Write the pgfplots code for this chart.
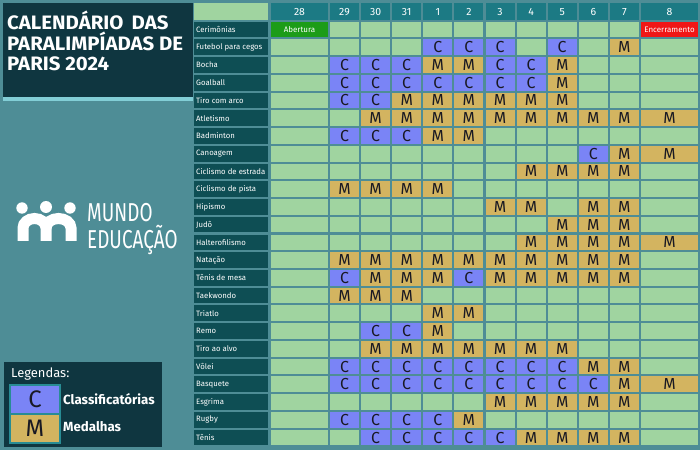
\documentclass[border=0pt]{standalone}
\usepackage{pgfplots}
\pgfplotsset{compat=1.18}
\usepackage{pgfplotstable}
\usepackage{fontspec}
\setmainfont{Fira Sans}
\definecolor{bg}{RGB}{78,141,150}
\definecolor{cellg}{RGB}{160,212,160}
\definecolor{cblue}{RGB}{122,132,246}
\definecolor{mgold}{RGB}{211,180,96}
\definecolor{lab}{RGB}{14,78,84}
\definecolor{head}{RGB}{28,122,132}
\definecolor{dark}{RGB}{15,54,64}
\definecolor{strip}{RGB}{130,206,214}
\definecolor{abert}{RGB}{28,156,24}
\definecolor{encer}{RGB}{240,22,22}
\definecolor{letter}{RGB}{25,25,35}
\definecolor{edge}{RGB}{40,140,148}

% dia: 0 = 28/ago, 1..3 = 29..31/ago, 4..11 = 1..8/set ; esp: linha do esporte
\pgfplotstableread{
dia esp
4 1
5 1
6 1
8 1
1 2
2 2
3 2
6 2
7 2
1 3
2 3
3 3
4 3
5 3
6 3
7 3
1 4
2 4
1 6
2 6
3 6
9 7
1 14
5 14
2 17
3 17
1 19
2 19
3 19
4 19
5 19
6 19
7 19
8 19
1 20
2 20
3 20
4 20
5 20
6 20
7 20
8 20
9 20
1 22
2 22
3 22
4 22
2 23
3 23
4 23
5 23
6 23
}\classif

\pgfplotstableread{
dia esp
10 1
4 2
5 2
8 2
8 3
3 4
4 4
5 4
6 4
7 4
8 4
2 5
3 5
4 5
5 5
6 5
7 5
8 5
9 5
10 5
11 5
4 6
5 6
10 7
11 7
7 8
8 8
9 8
10 8
1 9
2 9
3 9
4 9
6 10
7 10
9 10
10 10
8 11
9 11
10 11
7 12
8 12
9 12
10 12
11 12
1 13
2 13
3 13
4 13
5 13
6 13
7 13
8 13
9 13
10 13
2 14
3 14
4 14
6 14
7 14
8 14
9 14
10 14
1 15
2 15
3 15
4 16
5 16
4 17
2 18
3 18
4 18
5 18
6 18
7 18
8 18
9 19
10 19
10 20
11 20
6 21
7 21
8 21
9 21
10 21
5 22
7 23
8 23
9 23
10 23
}\medalhas

\pgfplotstableread{
dia esp nome
0 0 Abertura
}\abertura
\pgfplotstableread{
dia esp nome
11 0 Encerramento
}\encerramento

\begin{document}
\begin{tikzpicture}
\begin{scope}[x=1bp,y=-1bp]
\fill[bg] (0,0) rectangle (700,450);
% title
\fill[dark] (3,3) rectangle (193,97);
\fill[strip] (3,97) rectangle (193,101);
\node[anchor=base west,white,inner sep=0] at (7,30) {\scalebox{1.05}[1]{\bfseries\fontsize{19.5}{20}\selectfont CALENDÁRIO\, DAS}};
\node[anchor=base west,white,inner sep=0] at (7,51) {\scalebox{1.05}[1]{\bfseries\fontsize{19.5}{20}\selectfont PARALIMPÍADAS DE}};
\node[anchor=base west,white,inner sep=0] at (7,71) {\scalebox{1.05}[1]{\bfseries\fontsize{19.5}{20}\selectfont PARIS 2024}};
% logo
\fill[white] (22,208) circle (5.7);
\fill[white] (46,207) circle (6);
\fill[white] (70,208) circle (5.7);
\draw[white,line width=11bp] (23,241) -- (23,228) arc[start angle=180,end angle=360,x radius=11.5,y radius=9.5] -- (46,241);
\draw[white,line width=11bp] (46,228) arc[start angle=180,end angle=360,x radius=12.5,y radius=9.5] -- (71,241);
\node[anchor=base west,white,inner sep=0] at (87,222) {\scalebox{0.73}[1]{\fontsize{26}{22}\selectfont\begin{tabular}[t]{@{}l@{}}MUNDO\\[-3.5bp]EDUCAÇÃO\end{tabular}}};
% legend
\fill[dark] (4,362) rectangle (162,447);
\node[anchor=base west,white,inner sep=0,font=\fontsize{13}{13}\selectfont] at (11,377) {Legendas:};
\filldraw[fill=cblue,draw=edge,line width=1.5bp] (10,385) rectangle (60,414);
\filldraw[fill=mgold,draw=edge,line width=1.5bp] (10,414) rectangle (60,443);
\node[letter,font=\fontsize{24}{24}\selectfont] at (35,399.5) {C};
\node[letter,font=\fontsize{24}{24}\selectfont] at (35,428.5) {M};
\node[anchor=west,white,inner sep=0,font=\bfseries\fontsize{13.3}{13.3}\selectfont] at (63,399) {Classificatórias};
\node[anchor=west,white,inner sep=0,font=\bfseries\fontsize{13.3}{13.3}\selectfont] at (63,427) {Medalhas};
% header row
\fill[cellg] (194,3) rectangle (268,20);
\foreach \d [count=\k from 0] in {28,29,30,31,1,2,3,4,5,6,7,8} {
  \pgfmathsetmacro\xc{\k==0 ? 299.5 : (\k==11 ? 669.5 : 344.5+31.1*(\k-1))}
  \pgfmathsetmacro\w{(\k==0 || \k==11) ? 57 : 29}
  \fill[head] (\xc-\w/2,3) rectangle (\xc+\w/2,20);
  \node[white,font=\fontsize{10.5}{10.5}\selectfont] at (\xc,11.8) {\d};
  \foreach \r in {0,...,23} {
    \fill[cellg] (\xc-\w/2,29.5+17.74*\r-7.85) rectangle +(\w,15.7);
  }
}
\foreach \s [count=\r from 0] in {Cerimônias,Futebol para cegos,Bocha,Goalball,Tiro com arco,Atletismo,Badminton,Canoagem,Ciclismo de estrada,Ciclismo de pista,Hipismo,Judô,Halterofilismo,Natação,Tênis de mesa,Taekwondo,Triatlo,Remo,Tiro ao alvo,Vôlei,Basquete,Esgrima,Rugby,Tênis} {
  \fill[lab] (194,29.5+17.74*\r-7.85) rectangle +(74,15.7);
  \node[anchor=west,white,inner sep=0,font=\fontsize{7.8}{8}\selectfont] at (196,29.5+17.74*\r) {\s};
}
\end{scope}

\begin{axis}[
  at={(0,0)}, anchor=origin,
  x=1bp, y=1bp, y dir=reverse,
  xmin=0, xmax=700, ymin=0, ymax=450,
  hide axis, clip=false,
  every axis plot/.append style={draw=none, mark=none},
  nodes near coords align={center},
  visualization depends on={ifthenelse(\thisrow{dia}==0,57,ifthenelse(\thisrow{dia}==11,57,29))\as\cw},
]
\addplot[nodes near coords={C},
  every node near coord/.append style={anchor=center, fill=cblue, text=letter, inner sep=0pt,
    minimum width=\cw bp, minimum height=15.7bp, font=\fontsize{16}{16}\selectfont}]
  table[x expr={ifthenelse(\thisrow{dia}==0,299.5,ifthenelse(\thisrow{dia}==11,669.5,344.5+31.1*(\thisrow{dia}-1)))},
        y expr={29.5+17.74*\thisrow{esp}}] {\classif};
\addplot[nodes near coords={M},
  every node near coord/.append style={anchor=center, fill=mgold, text=letter, inner sep=0pt,
    minimum width=\cw bp, minimum height=15.7bp, font=\fontsize{16}{16}\selectfont}]
  table[x expr={ifthenelse(\thisrow{dia}==0,299.5,ifthenelse(\thisrow{dia}==11,669.5,344.5+31.1*(\thisrow{dia}-1)))},
        y expr={29.5+17.74*\thisrow{esp}}] {\medalhas};
\addplot[nodes near coords={Abertura},
  every node near coord/.append style={anchor=center, fill=abert, text=white, inner sep=0pt,
    minimum width=\cw bp, minimum height=15.7bp, font=\fontsize{8}{8}\selectfont}]
  table[x expr={ifthenelse(\thisrow{dia}==0,299.5,ifthenelse(\thisrow{dia}==11,669.5,344.5+31.1*(\thisrow{dia}-1)))},
        y expr={29.5+17.74*\thisrow{esp}}] {\abertura};
\addplot[nodes near coords={Encerramento},
  every node near coord/.append style={anchor=center, fill=encer, text=white, inner sep=0pt,
    minimum width=\cw bp, minimum height=15.7bp, font=\fontsize{8}{8}\selectfont}]
  table[x expr={ifthenelse(\thisrow{dia}==0,299.5,ifthenelse(\thisrow{dia}==11,669.5,344.5+31.1*(\thisrow{dia}-1)))},
        y expr={29.5+17.74*\thisrow{esp}}] {\encerramento};
\end{axis}
\end{tikzpicture}
\end{document}
